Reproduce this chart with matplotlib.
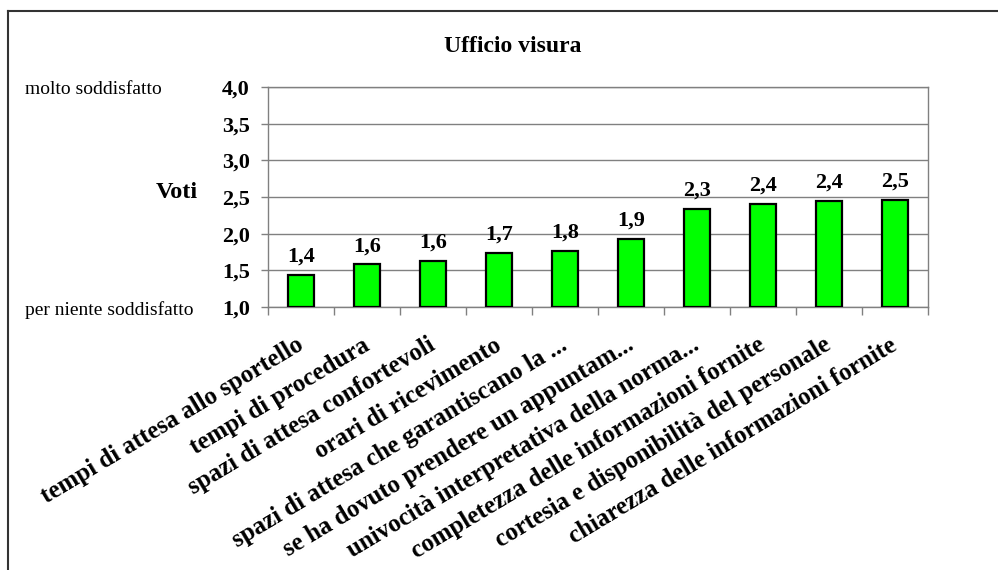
import numpy as np
import matplotlib.pyplot as plt
from matplotlib.lines import Line2D

plt.rcParams['font.family'] = ['Liberation Serif', 'DejaVu Serif']

categories = [
    "tempi di attesa allo sportello",
    "tempi di procedura",
    "spazi di attesa confortevoli",
    "orari di ricevimento",
    "spazi di attesa che garantiscano la ...",
    "se ha dovuto prendere un appuntam...",
    "univocità interpretativa della norma...",
    "completezza delle informazioni fornite",
    "cortesia e disponibilità del personale",
    "chiarezza delle informazioni fornite",
]
voti = [1.44, 1.58, 1.63, 1.74, 1.77, 1.93, 2.34, 2.40, 2.44, 2.46]
yticks = [1.0, 1.5, 2.0, 2.5, 3.0, 3.5, 4.0]

W, H = 998, 570
fig = plt.figure(figsize=(W / 100, H / 100), dpi=100)
ax = fig.add_axes([268 / W, 1 - 307 / H, 660 / W, 220 / H])

x = np.arange(len(categories))
ax.bar(x, np.array(voti) - 1.0, bottom=1.0, width=0.4,
       color='#00FF00', edgecolor='black', linewidth=1.6, zorder=3)

for xi, v in zip(x, voti):
    ax.annotate(f"{v:.1f}".replace('.', ','), (xi, v), xytext=(0, 6),
                textcoords='offset points', ha='center', va='bottom',
                fontsize=16, fontweight='bold')

ax.set_xlim(-0.5, len(categories) - 0.5)
ax.set_ylim(1.0, 4.0)
ax.set_yticks(yticks)
ax.set_yticklabels([f"{t:.1f}".replace('.', ',') for t in yticks],
                   fontsize=16, fontweight='bold')
ax.yaxis.grid(True, color='#808080', linewidth=1.0, zorder=0)
ax.tick_params(axis='y', length=5, width=1, color='#808080', pad=8)

# category ticks sit on the boundaries, labels under the bars
ax.set_xticks(np.arange(len(categories) + 1) - 0.5)
ax.set_xticklabels([])
ax.tick_params(axis='x', length=6, width=1, color='#808080')
for xi, lab in zip(x, categories):
    ax.annotate(lab, (xi, 0), xycoords=ax.get_xaxis_transform(),
                xytext=(-4, -19), textcoords='offset points',
                rotation=31, rotation_mode='anchor', ha='right', va='top',
                fontsize=18, fontweight='bold')

for s in ax.spines.values():
    s.set_color('#808080')
    s.set_linewidth(1.0)

fig.text(513 / W, 1 - 47 / H, "Ufficio visura", ha='center', va='center',
         fontsize=17, fontweight='bold')
fig.text(198 / W, 1 - 193 / H, "Voti", ha='right', va='center',
         fontsize=17.5, fontweight='bold')
fig.text(25 / W, 1 - 90 / H, "molto soddisfatto", ha='left', va='center',
         fontsize=14)
fig.text(25 / W, 1 - 310 / H, "per niente soddisfatto", ha='left', va='center',
         fontsize=14)

# chart frame, open to the right and bottom
fig.add_artist(Line2D([8 / W, 8 / W], [0, 1 - 11 / H], transform=fig.transFigure,
                      color='#333333', linewidth=1.5))
fig.add_artist(Line2D([8 / W, 1], [1 - 11 / H, 1 - 11 / H], transform=fig.transFigure,
                      color='#333333', linewidth=1.5))

fig.savefig("out.png", dpi=100, facecolor='white')
